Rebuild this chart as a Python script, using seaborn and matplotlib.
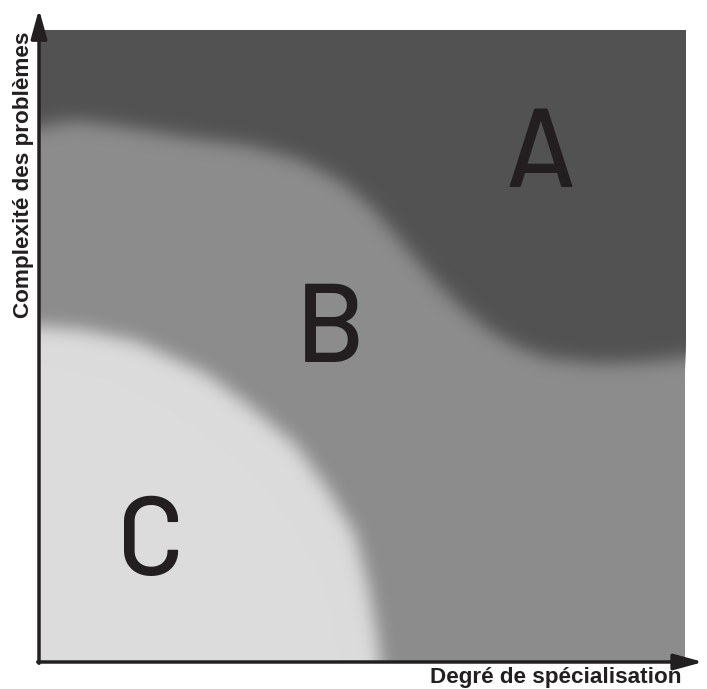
import numpy as np
import pandas as pd
import seaborn as sns
import matplotlib.pyplot as plt

# boundary between zone A (top) and zone B (0-100 scale)
ab_x = [0, 2.6, 6.5, 12.7, 22.0, 32.7, 40.4, 46.6, 51.2, 55.9, 60.5, 65.1, 69.8, 74.4, 79.0, 86.7, 94.4, 100]
ab_y = [84.4, 85.4, 85.7, 84.8, 83.2, 81.7, 79.5, 76.2, 72.2, 66.7, 61.1, 56.3, 52.4, 49.7, 48.1, 47.3, 47.6, 48.3]

# boundary between zone B and zone C (bottom left)
bc_x = [0, 6.5, 15.1, 25.8, 32.7, 39.7, 44.6, 48.9, 50.9, 52.3, 52.8]
bc_y = [53.2, 52.7, 50.8, 45.7, 40.5, 34.4, 27.5, 20.2, 12.2, 4.3, 0]

zones = ['A', 'B', 'C']
zone_colors = ['#525252', '#8c8c8c', '#dcdcdc']

df_ab = pd.DataFrame({'x': ab_x, 'y': ab_y})
df_bc = pd.DataFrame({'x': bc_x, 'y': bc_y})


def gauss_blur(a, sigma):
    r = int(3 * sigma)
    k = np.exp(-0.5 * (np.arange(-r, r + 1) / sigma) ** 2)
    k /= k.sum()
    a = np.apply_along_axis(lambda v: np.convolve(v, k, mode='same'), 0, a)
    a = np.apply_along_axis(lambda v: np.convolve(v, k, mode='same'), 1, a)
    return a


def soft_edge(borders, sigma=6.0):
    # blur a filled zone; sides touching the frame are padded with their own values
    def f(img, dpi):
        p = int(3 * sigma) + 1
        alpha = img[..., 3].copy()
        rgb = img[np.unravel_index(np.argmax(alpha), alpha.shape)][:3]
        # the outer pixel lines on the frame can be half covered: use the next line
        if 'top' in borders:
            alpha[:2] = alpha[2]
        if 'bottom' in borders:
            alpha[-2:] = alpha[-3]
        if 'left' in borders:
            alpha[:, :2] = alpha[:, 2:3]
        if 'right' in borders:
            alpha[:, -2:] = alpha[:, -3:-2]
        e = {s: (p if s in borders else 0) for s in ['top', 'bottom', 'left', 'right']}
        z = {s: (0 if s in borders else p) for s in ['top', 'bottom', 'left', 'right']}
        a = np.pad(alpha, ((e['top'], e['bottom']), (e['left'], e['right'])), mode='edge')
        a = np.pad(a, ((z['top'], z['bottom']), (z['left'], z['right'])), mode='constant')
        a = gauss_blur(a, sigma)
        a = a[e['top']:a.shape[0] - e['bottom'], e['left']:a.shape[1] - e['right']]
        out = np.zeros(a.shape + (4,))
        out[..., :3] = rgb
        out[..., 3] = np.clip(a, 0, 1)
        return out, -z['left'], -z['bottom']
    return f


sns.set_theme(style='white')
plt.rcParams['font.family'] = ['Liberation Sans', 'DejaVu Sans']

fig = plt.figure(figsize=(7.07, 6.89), dpi=100)
ax = fig.add_axes([39 / 707, 27 / 689, 646 / 707, 632 / 689])
ax.set_facecolor(zone_colors[1])

fill_a = ax.fill_between(df_ab['x'], df_ab['y'], 100, color=zone_colors[0], lw=0)
fill_c = ax.fill_between(df_bc['x'], 0, df_bc['y'], color=zone_colors[2], lw=0)
fill_a.set_agg_filter(soft_edge(['top', 'left', 'right']))
fill_c.set_agg_filter(soft_edge(['bottom', 'left']))

ax.set_xlim(0, 100)
ax.set_ylim(0, 100)
ax.set_xticks([])
ax.set_yticks([])
for s in ax.spines.values():
    s.set_visible(False)

letter_font = ['Barlow', 'Barlow Semi Condensed', 'DejaVu Sans']
ax.text(77.7, 75.2, zones[0], fontsize=80, fontweight=500, color='#231f20', ha='center', va='baseline', family=letter_font)
ax.text(45.2, 47.5, zones[1], fontsize=80, fontweight=500, color='#231f20', ha='center', va='baseline', family=letter_font)
ax.text(17.3, 13.8, zones[2], fontsize=80, fontweight=500, color='#231f20', ha='center', va='baseline', family=letter_font)

# axes with arrows
arr = dict(arrowstyle='-|>,head_length=0.8,head_width=0.22', lw=2.5, color='#231f20',
           mutation_scale=22, shrinkA=0, shrinkB=0)
ax.annotate('', xy=(1.028, 0), xytext=(-0.002, 0), xycoords='axes fraction', arrowprops=arr, annotation_clip=False)
ax.annotate('', xy=(0, 1.033), xytext=(0, -0.002), xycoords='axes fraction', arrowprops=arr, annotation_clip=False)

fig.text(681 / 707, 1 - 677 / 689, 'Degré de spécialisation', ha='right', va='center',
         fontsize=16.2, fontweight='bold', color='#231f20')
fig.text(24 / 707, 1 - 32 / 689, 'Complexité des problèmes', ha='center', va='top', rotation=90,
         fontsize=16.2, fontweight='bold', color='#231f20')

fig.savefig('out.png', dpi=100)
